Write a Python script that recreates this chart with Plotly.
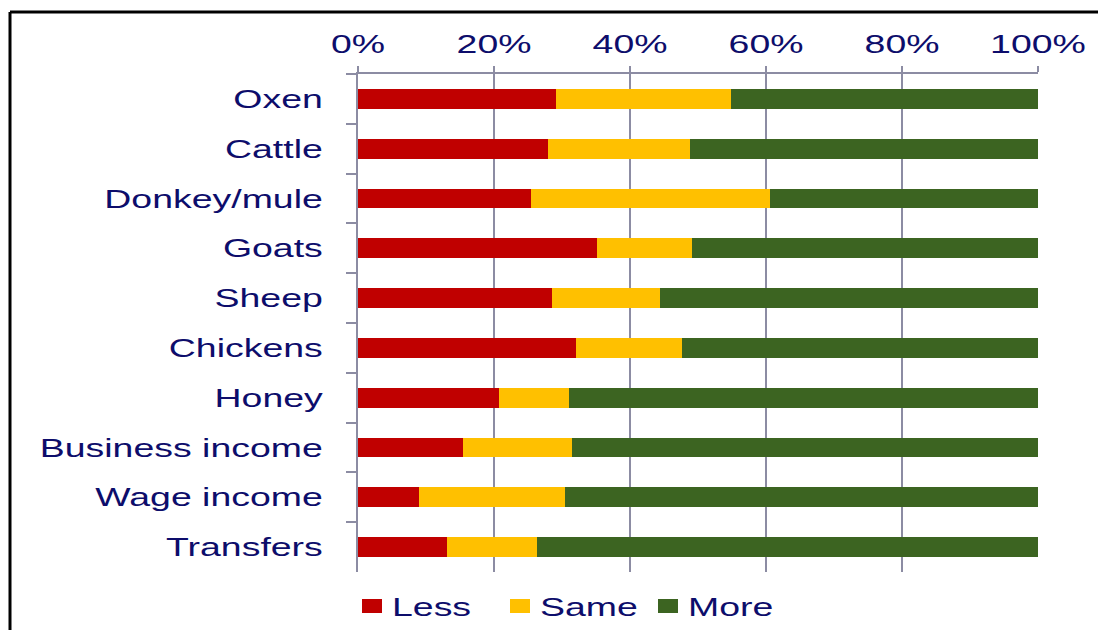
import plotly.graph_objects as go

categories = ["Oxen", "Cattle", "Donkey/mule", "Goats", "Sheep", "Chickens",
              "Honey", "Business income", "Wage income", "Transfers"]
less = [29.1, 28.0, 25.4, 35.1, 28.6, 32.0, 20.7, 15.5, 9.0, 13.1]
same = [25.8, 20.8, 35.2, 14.0, 15.8, 15.7, 10.3, 16.0, 21.4, 13.2]
more = [100 - a - b for a, b in zip(less, same)]

series = [("Less", less, "#C00000"), ("Same", same, "#FFC000"), ("More", more, "#3C6421")]
tick_vals = [0, 20, 40, 60, 80, 100]
tick_text = ["0%", "20%", "40%", "60%", "80%", "100%"]

text_color = "#0D0D6B"
grid_color = "#8C8CA3"
font = dict(family="Liberation Sans, Arial, sans-serif", size=26, color=text_color)

fig = go.Figure()
for name, vals, color in series:
    fig.add_trace(go.Bar(
        y=categories, x=vals, name=name, orientation="h",
        marker=dict(color=color, line=dict(width=0)),
    ))

L, R, T, B = 358, 60, 74, 58
W, H = 1098, 630
pw, ph = W - L - R, H - T - B

def px_x(p):
    return (p - L) / pw

def px_y(p):
    return (H - B - p) / ph

fig.update_layout(
    width=W, height=H,
    barmode="stack", bargap=0.6,
    margin=dict(l=L, r=R, t=T, b=B, autoexpand=False),
    paper_bgcolor="white", plot_bgcolor="white",
    font=font,
    showlegend=True,
    legend=dict(orientation="h", x=px_x(352), y=px_y(606), xanchor="left", yanchor="middle",
                traceorder="normal", entrywidth=103, entrywidthmode="pixels",
                font=dict(size=26, color=text_color), itemwidth=30, tracegroupgap=0,
                bgcolor="rgba(0,0,0,0)"),
    xaxis=dict(
        side="top", range=[0, 100], tickvals=tick_vals, ticktext=tick_text,
        showgrid=True, gridcolor=grid_color, gridwidth=2,
        showline=True, linecolor=grid_color, linewidth=2,
        ticks="outside", ticklen=6, tickcolor=grid_color, tickwidth=2,
        ticklabelstandoff=3,
        zeroline=False, fixedrange=True,
        tickfont=dict(size=26, color=text_color),
    ),
    yaxis=dict(
        autorange="reversed", showgrid=False,
        showline=True, linecolor=grid_color, linewidth=2,
        ticks="outside", tickson="boundaries", ticklen=10, tickcolor=grid_color, tickwidth=2,
        ticklabelstandoff=28,
        tickfont=dict(size=26, color=text_color),
    ),
    shapes=[
        dict(type="line", xref="paper", yref="paper",
             x0=px_x(10), x1=px_x(1110), y0=px_y(12), y1=px_y(12),
             line=dict(color="black", width=3)),
        dict(type="line", xref="paper", yref="paper",
             x0=px_x(10), x1=px_x(10), y0=px_y(12), y1=px_y(650),
             line=dict(color="black", width=3)),
    ],
)

# Wide lettering for axis and legend text, plus larger legend swatches.
post_js = """
var gd = document.getElementById('{plot_id}');
function widen() {
  gd.querySelectorAll('g.xtick text, g.ytick text, text.legendtext').forEach(function (t) {
    if (!t.dataset.w) { t.dataset.w = t.getComputedTextLength(); }
    t.setAttribute('textLength', (parseFloat(t.dataset.w) * 1.44).toFixed(1));
    t.setAttribute('lengthAdjust', 'spacingAndGlyphs');
  });
  gd.querySelectorAll('g.legendpoints path').forEach(function (p) {
    p.setAttribute('d', 'M10,7H-10V-7H10Z');
  });
}
widen();
gd.on('plotly_afterplot', widen);
"""

fig.write_html("out.html", post_script=post_js)
